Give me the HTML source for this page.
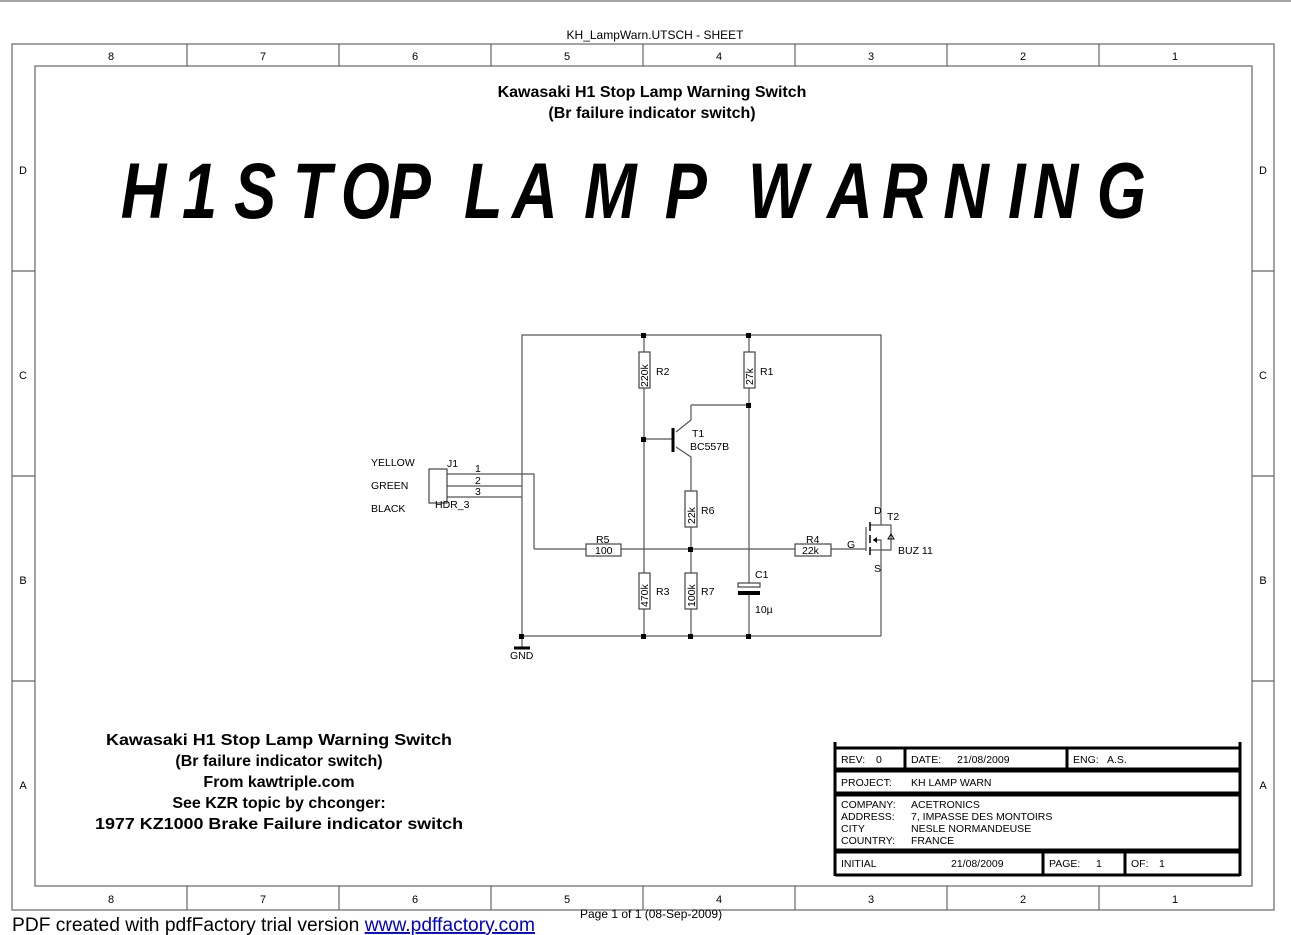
<!DOCTYPE html>
<html><head><meta charset="utf-8"><style>
html,body{margin:0;padding:0;background:#fff;}
svg{display:block;font-family:"Liberation Sans",sans-serif;}
</style></head><body>
<svg width="1291" height="935" viewBox="0 0 1291 935" xmlns="http://www.w3.org/2000/svg">
<line x1="0" y1="1" x2="1291" y2="1" stroke="#888" stroke-width="1.5"/>
<text x="655" y="39" font-size="12" text-anchor="middle">KH_LampWarn.UTSCH - SHEET</text>
<g stroke="#666" stroke-width="1.2" fill="none">
<rect x="12" y="44" width="1262" height="866"/>
<rect x="35" y="66" width="1217" height="820"/>
<line x1="187" y1="44" x2="187" y2="66"/><line x1="339" y1="44" x2="339" y2="66"/><line x1="491" y1="44" x2="491" y2="66"/><line x1="643" y1="44" x2="643" y2="66"/><line x1="795" y1="44" x2="795" y2="66"/><line x1="947" y1="44" x2="947" y2="66"/><line x1="1099" y1="44" x2="1099" y2="66"/>
<line x1="187" y1="886" x2="187" y2="910"/><line x1="339" y1="886" x2="339" y2="910"/><line x1="491" y1="886" x2="491" y2="910"/><line x1="643" y1="886" x2="643" y2="910"/><line x1="795" y1="886" x2="795" y2="910"/><line x1="947" y1="886" x2="947" y2="910"/><line x1="1099" y1="886" x2="1099" y2="910"/>
<line x1="12" y1="271" x2="35" y2="271"/><line x1="12" y1="476" x2="35" y2="476"/><line x1="12" y1="681" x2="35" y2="681"/>
<line x1="1252" y1="271" x2="1274" y2="271"/><line x1="1252" y1="476" x2="1274" y2="476"/><line x1="1252" y1="681" x2="1274" y2="681"/>
</g>
<g font-size="11" text-anchor="middle">
<text x="111" y="60">8</text><text x="263" y="60">7</text><text x="415" y="60">6</text><text x="567" y="60">5</text><text x="719" y="60">4</text><text x="871" y="60">3</text><text x="1023" y="60">2</text><text x="1175" y="60">1</text>
<text x="111" y="903">8</text><text x="263" y="903">7</text><text x="415" y="903">6</text><text x="567" y="903">5</text><text x="719" y="903">4</text><text x="871" y="903">3</text><text x="1023" y="903">2</text><text x="1175" y="903">1</text>
<text x="23" y="174">D</text><text x="23" y="379">C</text><text x="23" y="584">B</text><text x="23" y="789">A</text>
<text x="1263" y="174">D</text><text x="1263" y="379">C</text><text x="1263" y="584">B</text><text x="1263" y="789">A</text>
</g>
<g font-weight="bold" font-size="16" text-anchor="middle">
<text x="652" y="97">Kawasaki H1 Stop Lamp Warning Switch</text>
<text x="652" y="118">(Br failure indicator switch)</text>
<text x="279" y="745" textLength="346" lengthAdjust="spacingAndGlyphs">Kawasaki H1 Stop Lamp Warning Switch</text>
<text x="279" y="766">(Br failure indicator switch)</text>
<text x="279" y="787">From kawtriple.com</text>
<text x="279" y="808">See KZR topic by chconger:</text>
<text x="279" y="829" textLength="368" lengthAdjust="spacingAndGlyphs">1977 KZ1000 Brake Failure indicator switch</text>
</g>
<g transform="scale(0.8,1)">
<text y="218" font-size="79" font-weight="bold" font-style="italic" x="151 227.5 292.5 366 426 486 580 640 730 831 935 1034 1102.5 1179 1260 1291 1371">H1STOPLAMPWARNING</text>
</g>
<g stroke="#555" stroke-width="1.2" fill="none">
<polyline points="522,636 522,335 881,335 881,525"/>
<line x1="522" y1="636" x2="881" y2="636"/>
<line x1="881" y1="550" x2="881" y2="636"/>
<line x1="644" y1="335" x2="644" y2="636"/>
<line x1="749" y1="335" x2="749" y2="585"/>
<line x1="749" y1="593" x2="749" y2="636"/>
<polyline points="691,405 749,405"/>
<polyline points="691,405 691,420 676,432"/>
<polyline points="676,447 691,457 691,636"/>
<line x1="644" y1="439" x2="673" y2="439"/>
<line x1="534" y1="549" x2="866" y2="549"/>
<polyline points="447,474 534,474 534,549"/>
<line x1="447" y1="486" x2="522" y2="486"/>
<line x1="447" y1="497" x2="522" y2="497"/>
<line x1="522" y1="636" x2="522" y2="648"/>
<line x1="866" y1="527" x2="866" y2="551"/>
<polyline points="870,525 881,525 891,525 891,550 881,550"/>
<line x1="870" y1="550" x2="881" y2="550"/>
<polyline points="873,540 881,540 881,550"/>
</g>
<g stroke="#000" stroke-width="1.5">
<line x1="870" y1="522" x2="870" y2="531"/><line x1="870" y1="535" x2="870" y2="543"/><line x1="870" y1="547" x2="870" y2="555"/>
<line x1="673" y1="428" x2="673" y2="452" stroke-width="3"/>
<line x1="514" y1="648" x2="530" y2="648" stroke-width="3"/>
</g>
<path d="M873,540 L877,537 L877,543 Z" fill="#000"/>
<path d="M891,534 L888,539 L894,539 Z" fill="none" stroke="#000" stroke-width="1"/>
<g fill="#fff" stroke="#444" stroke-width="1.2">
<rect x="639" y="352" width="11" height="36"/>
<rect x="744" y="352" width="11" height="36"/>
<rect x="685" y="491" width="12" height="36"/>
<rect x="639" y="573" width="11" height="36"/>
<rect x="685" y="573" width="12" height="36"/>
<rect x="586" y="544" width="35" height="12"/>
<rect x="795" y="544" width="36" height="12"/>
<rect x="738" y="583" width="22" height="4"/>
<rect x="429" y="469" width="18" height="34"/>
</g>
<rect x="738" y="591" width="22" height="4" fill="#000"/>
<g fill="#000">
<rect x="641" y="333" width="5" height="5"/><rect x="746" y="333" width="5" height="5"/>
<rect x="746" y="403" width="5" height="5"/><rect x="641" y="437" width="5" height="5"/>
<rect x="688" y="547" width="5" height="5"/>
<rect x="519" y="634" width="5" height="5"/><rect x="641" y="634" width="5" height="5"/><rect x="688" y="634" width="5" height="5"/><rect x="746" y="634" width="5" height="5"/>
</g>
<g font-size="10.5">
<text transform="translate(648,387) rotate(-90)">220k</text>
<text transform="translate(753,385) rotate(-90)">27k</text>
<text transform="translate(695,524) rotate(-90)">22k</text>
<text transform="translate(648,607) rotate(-90)">470k</text>
<text transform="translate(695,607) rotate(-90)">100k</text>
<text x="656" y="375">R2</text><text x="760" y="375">R1</text>
<text x="692" y="437">T1</text><text x="690" y="450">BC557B</text>
<text x="701" y="514">R6</text><text x="656" y="595">R3</text><text x="701" y="595">R7</text>
<text x="596" y="543">R5</text><text x="595" y="554">100</text>
<text x="806" y="543">R4</text><text x="802" y="554">22k</text>
<text x="847" y="548">G</text>
<text x="755" y="578">C1</text><text x="755" y="613">10µ</text>
<text x="874" y="514">D</text><text x="887" y="520">T2</text><text x="874" y="572">S</text><text x="898" y="554">BUZ 11</text>
<text x="510" y="659">GND</text>
<text x="371" y="466">YELLOW</text><text x="371" y="489">GREEN</text><text x="371" y="512">BLACK</text>
<text x="447" y="467">J1</text><text x="435" y="508">HDR_3</text>
<text x="475" y="472">1</text><text x="475" y="484">2</text><text x="475" y="495">3</text>
</g>
<g stroke="#000" stroke-width="3" fill="none">
<line x1="835" y1="742" x2="835" y2="876"/><line x1="1240" y1="742" x2="1240" y2="876"/>
<line x1="835" y1="748" x2="1240" y2="748"/>
<line x1="835" y1="769" x2="1240" y2="769"/>
<line x1="835" y1="771" x2="1240" y2="771"/>
<line x1="835" y1="793" x2="1240" y2="793"/>
<line x1="835" y1="795" x2="1240" y2="795"/>
<line x1="835" y1="850" x2="1240" y2="850"/>
<line x1="835" y1="852" x2="1240" y2="852"/>
<line x1="835" y1="875" x2="1240" y2="875"/>
<line x1="905" y1="748" x2="905" y2="769"/><line x1="1067" y1="748" x2="1067" y2="769"/>
<line x1="1043" y1="852" x2="1043" y2="875"/><line x1="1125" y1="852" x2="1125" y2="875"/>
</g>
<g font-size="10.5">
<text x="841" y="763">REV:</text><text x="876" y="763">0</text>
<text x="911" y="763">DATE:</text><text x="957" y="763">21/08/2009</text>
<text x="1073" y="763">ENG:</text><text x="1107" y="763">A.S.</text>
<text x="841" y="786">PROJECT:</text><text x="911" y="786">KH LAMP WARN</text>
<text x="841" y="808">COMPANY:</text><text x="911" y="808">ACETRONICS</text>
<text x="841" y="820">ADDRESS:</text><text x="911" y="820">7, IMPASSE DES MONTOIRS</text>
<text x="841" y="832">CITY</text><text x="911" y="832">NESLE NORMANDEUSE</text>
<text x="841" y="844">COUNTRY:</text><text x="911" y="844">FRANCE</text>
<text x="841" y="867">INITIAL</text><text x="951" y="867">21/08/2009</text>
<text x="1049" y="867">PAGE:</text><text x="1096" y="867">1</text>
<text x="1131" y="867">OF:</text><text x="1159" y="867">1</text>
</g>
<text x="12" y="931" font-size="19" textLength="523" lengthAdjust="spacingAndGlyphs">PDF created with pdfFactory trial version <tspan fill="#0000cc" text-decoration="underline">www.pdffactory.com </tspan></text>
<text x="580" y="918" font-size="12">Page 1 of 1 (08-Sep-2009)</text>
</svg>
</body></html>
